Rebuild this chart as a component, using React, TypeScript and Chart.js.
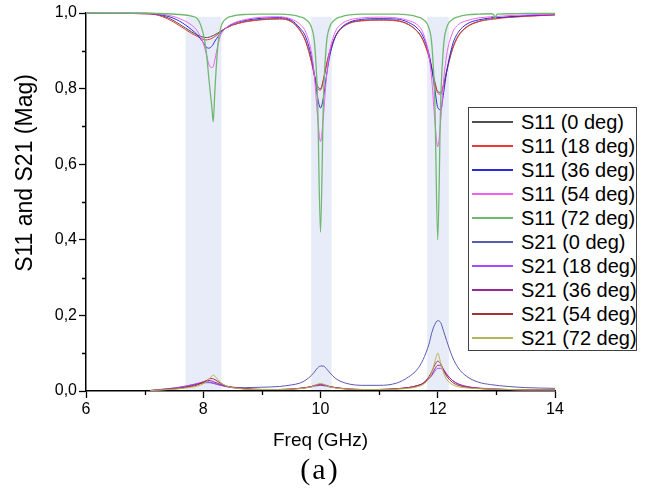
import React, { useEffect, useRef } from "react";
import { Chart, registerables } from "chart.js";

Chart.register(...registerables);

// ---------- data ----------
const s11Freq = [
  6.0, 6.5, 7.0, 7.2, 7.4, 7.6, 7.8, 7.9,
  8.0, 8.05, 8.1, 8.15, 8.17, 8.2, 8.25, 8.3, 8.4,
  8.5, 8.7, 9.0, 9.3, 9.5, 9.65,
  9.75, 9.85, 9.9, 9.95, 10.0, 10.05, 10.1, 10.15, 10.25, 10.35,
  10.5, 10.7, 11.0, 11.3, 11.5, 11.65,
  11.75, 11.85, 11.9, 11.95, 12.0, 12.05, 12.1, 12.15, 12.25, 12.35,
  12.5, 12.7, 12.9, 12.95, 12.98, 13.01, 13.2, 13.5, 14.0,
];

const s11Deg0 = [
  0.999, 0.999, 0.998, 0.996, 0.987, 0.970, 0.950, 0.942,
  0.936, 0.935, 0.936, 0.939, 0.940, 0.943, 0.947, 0.952, 0.961,
  0.968, 0.977, 0.983, 0.985, 0.978, 0.955,
  0.925, 0.870, 0.834, 0.806, 0.800, 0.825, 0.862, 0.895, 0.937, 0.959,
  0.974, 0.980, 0.982, 0.980, 0.970, 0.952,
  0.929, 0.886, 0.853, 0.818, 0.792, 0.790, 0.811, 0.846, 0.905, 0.940,
  0.964, 0.978, 0.984, 0.985, 0.985, 0.986, 0.989, 0.992, 0.995,
];

const s11Deg18 = [
  0.999, 0.999, 0.998, 0.995, 0.984, 0.966, 0.946, 0.938,
  0.930, 0.929, 0.930, 0.933, 0.935, 0.938, 0.944, 0.951, 0.961,
  0.968, 0.976, 0.982, 0.984, 0.977, 0.953,
  0.923, 0.867, 0.830, 0.800, 0.796, 0.822, 0.860, 0.893, 0.936, 0.958,
  0.973, 0.979, 0.981, 0.979, 0.969, 0.951,
  0.927, 0.883, 0.850, 0.815, 0.788, 0.785, 0.808, 0.843, 0.903, 0.938,
  0.963, 0.977, 0.983, 0.984, 0.984, 0.985, 0.988, 0.991, 0.995,
];

const s11Deg36 = [
  1.0, 0.999, 0.999, 0.997, 0.991, 0.978, 0.956, 0.942,
  0.922, 0.910, 0.907, 0.913, 0.917, 0.926, 0.937, 0.948, 0.962,
  0.971, 0.980, 0.986, 0.988, 0.981, 0.960,
  0.936, 0.880, 0.832, 0.777, 0.749, 0.777, 0.832, 0.880, 0.936, 0.960,
  0.976, 0.983, 0.985, 0.984, 0.975, 0.960,
  0.938, 0.892, 0.851, 0.799, 0.750, 0.744, 0.789, 0.842, 0.915, 0.949,
  0.971, 0.982, 0.987, 0.988, 0.988, 0.988, 0.990, 0.993, 0.996,
];

const s11Deg54 = [
  1.0, 1.0, 0.999, 0.998, 0.994, 0.985, 0.968, 0.952,
  0.920, 0.893, 0.862, 0.856, 0.858, 0.878, 0.915, 0.942, 0.962,
  0.972, 0.982, 0.989, 0.990, 0.984, 0.970,
  0.949, 0.892, 0.827, 0.727, 0.660, 0.727, 0.827, 0.892, 0.949, 0.970,
  0.982, 0.987, 0.989, 0.987, 0.980, 0.969,
  0.947, 0.887, 0.820, 0.715, 0.646, 0.715, 0.820, 0.887, 0.947, 0.969,
  0.980, 0.987, 0.990, 0.991, 0.991, 0.991, 0.993, 0.995, 0.997,
];

const s11Deg72 = [
  1.0, 1.0, 1.0, 0.999, 0.998, 0.996, 0.992, 0.985,
  0.945, 0.900, 0.820, 0.745, 0.712, 0.800, 0.915, 0.962, 0.986,
  0.992, 0.996, 0.997, 0.997, 0.995, 0.990,
  0.983, 0.960, 0.917, 0.770, 0.420, 0.770, 0.917, 0.960, 0.983, 0.990,
  0.995, 0.997, 0.997, 0.997, 0.995, 0.990,
  0.983, 0.960, 0.915, 0.765, 0.400, 0.765, 0.915, 0.960, 0.983, 0.990,
  0.995, 0.997, 0.998, 0.997, 0.986, 0.997, 0.998, 0.999, 0.999,
];

const s21Freq = [
  7.1, 7.2, 7.4, 7.6, 7.8, 7.9,
  8.0, 8.05, 8.1, 8.15, 8.17, 8.2, 8.25, 8.3, 8.4,
  8.5, 8.7, 9.0, 9.3, 9.5, 9.65,
  9.75, 9.85, 9.9, 9.95, 10.0, 10.05, 10.1, 10.15, 10.25, 10.35,
  10.5, 10.7, 11.0, 11.3, 11.5, 11.65,
  11.75, 11.85, 11.9, 11.95, 12.0, 12.05, 12.1, 12.15, 12.25, 12.35,
  12.5, 12.7, 12.9, 13.2, 13.5, 14.0,
];

const s21Deg0 = [
  0.002, 0.003, 0.006, 0.010, 0.016, 0.019,
  0.021, 0.022, 0.022, 0.021, 0.020, 0.019, 0.017, 0.015, 0.012,
  0.010, 0.009, 0.010, 0.012, 0.016, 0.021,
  0.029, 0.042, 0.051, 0.061, 0.066, 0.066, 0.059, 0.050, 0.034, 0.025,
  0.018, 0.015, 0.015, 0.021, 0.037, 0.057,
  0.083, 0.124, 0.155, 0.176, 0.186, 0.181, 0.158, 0.134, 0.090, 0.061,
  0.038, 0.023, 0.017, 0.012, 0.009, 0.007,
];

const s21Deg18 = [
  0.001, 0.003, 0.006, 0.010, 0.016, 0.020,
  0.024, 0.025, 0.024, 0.022, 0.021, 0.020, 0.017, 0.015, 0.011,
  0.009, 0.006, 0.004, 0.004, 0.005, 0.007,
  0.009, 0.011, 0.013, 0.014, 0.015, 0.014, 0.013, 0.011, 0.009, 0.007,
  0.005, 0.004, 0.004, 0.006, 0.009, 0.014,
  0.020, 0.032, 0.041, 0.052, 0.060, 0.060, 0.053, 0.043, 0.028, 0.019,
  0.012, 0.008, 0.006, 0.004, 0.003, 0.003,
];

const s21Deg36 = [
  0.001, 0.002, 0.005, 0.008, 0.014, 0.018,
  0.024, 0.027, 0.028, 0.026, 0.025, 0.023, 0.020, 0.017, 0.012,
  0.009, 0.006, 0.004, 0.004, 0.005, 0.007,
  0.009, 0.012, 0.014, 0.015, 0.016, 0.015, 0.014, 0.012, 0.009, 0.007,
  0.005, 0.004, 0.004, 0.006, 0.009, 0.014,
  0.020, 0.034, 0.044, 0.058, 0.068, 0.067, 0.057, 0.045, 0.028, 0.018,
  0.011, 0.007, 0.005, 0.004, 0.003, 0.003,
];

const s21Deg54 = [
  0.001, 0.002, 0.004, 0.007, 0.012, 0.016,
  0.023, 0.027, 0.032, 0.033, 0.032, 0.030, 0.025, 0.020, 0.013,
  0.010, 0.006, 0.004, 0.004, 0.005, 0.007,
  0.009, 0.012, 0.015, 0.017, 0.018, 0.017, 0.015, 0.012, 0.009, 0.007,
  0.005, 0.004, 0.004, 0.006, 0.009, 0.014,
  0.021, 0.038, 0.052, 0.069, 0.079, 0.072, 0.055, 0.040, 0.023, 0.015,
  0.010, 0.007, 0.005, 0.004, 0.003, 0.003,
];

const s21Deg72 = [
  0.001, 0.002, 0.004, 0.006, 0.010, 0.013,
  0.019, 0.024, 0.032, 0.040, 0.042, 0.039, 0.030, 0.022, 0.013,
  0.009, 0.005, 0.004, 0.004, 0.005, 0.006,
  0.008, 0.011, 0.014, 0.018, 0.020, 0.018, 0.014, 0.011, 0.008, 0.006,
  0.005, 0.004, 0.004, 0.005, 0.007, 0.011,
  0.017, 0.033, 0.050, 0.077, 0.100, 0.075, 0.048, 0.031, 0.017, 0.011,
  0.008, 0.006, 0.005, 0.004, 0.003, 0.003,
];

const seriesLabels = [
  "S11 (0 deg)", "S11 (18 deg)", "S11 (36 deg)", "S11 (54 deg)", "S11 (72 deg)",
  "S21 (0 deg)", "S21 (18 deg)", "S21 (36 deg)", "S21 (54 deg)", "S21 (72 deg)",
];

const bandStart = [7.7, 9.84, 11.82];
const bandEnd = [8.31, 10.19, 12.19];
const bandTop = 0.99;

const xMinorTicks = [7, 9, 11, 13];
const yMinorTicks = [0.1, 0.3, 0.5, 0.7, 0.9];

// ---------- styles ----------
const seriesColors = [
  "#505050", "#e83a3a", "#2b2bd9", "#f060f0", "#6fb86f",
  "#5a5ab4", "#a54cff", "#9a2a9a", "#a83030", "#b5b55a",
];
const seriesWidths = [1, 1, 1, 1, 1.3, 1, 1, 1, 1, 1];
const FONT = "'Liberation Sans', Arial, sans-serif";

const bandPlugin = {
  id: "bands",
  beforeDatasetsDraw(chart: any) {
    const { ctx, scales } = chart;
    const xs = scales.x;
    const ys = scales.y;
    ctx.save();
    ctx.fillStyle = "#e8ecf8";
    for (let i = 0; i < bandStart.length; i++) {
      const x0 = xs.getPixelForValue(bandStart[i]);
      const x1 = xs.getPixelForValue(bandEnd[i]);
      const y0 = ys.getPixelForValue(bandTop);
      const y1 = ys.getPixelForValue(0) - 1;
      ctx.fillRect(x0, y0, x1 - x0, y1 - y0);
    }
    ctx.restore();
  },
};

const minorTickPlugin = {
  id: "minorTicks",
  afterDraw(chart: any) {
    const { ctx, scales, chartArea } = chart;
    ctx.save();
    ctx.strokeStyle = "#000";
    ctx.lineWidth = 1.3;
    ctx.beginPath();
    for (const v of xMinorTicks) {
      const px = Math.round(scales.x.getPixelForValue(v)) + 0.5;
      ctx.moveTo(px, chartArea.bottom);
      ctx.lineTo(px, chartArea.bottom + 4);
    }
    for (const v of yMinorTicks) {
      const py = Math.round(scales.y.getPixelForValue(v)) + 0.5;
      ctx.moveTo(chartArea.left, py);
      ctx.lineTo(chartArea.left - 4, py);
    }
    ctx.stroke();
    ctx.restore();
  },
};

function toPoints(xs: number[], ys: number[]) {
  return xs.map((x, i) => ({ x, y: ys[i] }));
}

export default function App() {
  const canvasRef = useRef<HTMLCanvasElement | null>(null);

  useEffect(() => {
    if (!canvasRef.current) return;
    const s11Sets = [s11Deg0, s11Deg18, s11Deg36, s11Deg54, s11Deg72];
    const s21Sets = [s21Deg0, s21Deg18, s21Deg36, s21Deg54, s21Deg72];
    const all = [
      ...s11Sets.map((d) => toPoints(s11Freq, d)),
      ...s21Sets.map((d) => toPoints(s21Freq, d)),
    ];
    const datasets = all.map((pts, i) => ({
      label: seriesLabels[i],
      data: pts,
      borderColor: seriesColors[i],
      backgroundColor: seriesColors[i],
      borderWidth: seriesWidths[i],
      pointRadius: 0,
      fill: false,
      cubicInterpolationMode: "monotone" as const,
      clip: 3,
      order: all.length - 1 - i,
    }));

    const chart = new Chart(canvasRef.current, {
      type: "line",
      data: { datasets },
      options: {
        animation: false,
        responsive: false,
        maintainAspectRatio: false,
        layout: { padding: { left: 0, top: 13, right: 102, bottom: 0 } },
        plugins: { legend: { display: false }, tooltip: { enabled: false } },
        scales: {
          x: {
            type: "linear",
            min: 6,
            max: 14,
            ticks: {
              stepSize: 2,
              color: "#000",
              font: { family: FONT, size: 16 },
              padding: 2,
              maxRotation: 0,
              autoSkip: false,
            },
            grid: {
              display: true,
              drawOnChartArea: false,
              drawTicks: true,
              tickLength: 7,
              color: "#000",
              tickColor: "#000",
              tickWidth: 1.3,
            },
            border: { display: true, color: "#000", width: 1.5 },
            title: {
              display: true,
              text: "Freq (GHz)",
              color: "#000",
              font: { family: FONT, size: 19 },
              padding: { top: 0, bottom: 8 },
            },
            afterFit: (s: any) => {
              s.height = 69;
            },
          },
          y: {
            type: "linear",
            min: 0,
            max: 1,
            ticks: {
              stepSize: 0.2,
              color: "#000",
              font: { family: FONT, size: 16 },
              padding: 2,
              callback: (v: any) => Number(v).toFixed(1).replace(".", ","),
            },
            grid: {
              display: true,
              drawOnChartArea: false,
              drawTicks: true,
              tickLength: 7,
              color: "#000",
              tickColor: "#000",
              tickWidth: 1.3,
            },
            border: { display: true, color: "#000", width: 1.5 },
            afterFit: (s: any) => {
              s.width = 86;
            },
          },
        },
      },
      plugins: [bandPlugin, minorTickPlugin],
    });
    return () => chart.destroy();
  }, []);

  return (
    <div style={{ position: "absolute", left: 0, top: 0, width: 657, height: 488, background: "#fff", overflow: "hidden" }}>
      <canvas ref={canvasRef} width={657} height={460} style={{ position: "absolute", left: 0, top: 0, width: 657, height: 460 }} />
      <div
        style={{
          position: "absolute",
          left: 24 - 150,
          top: 173 - 15,
          width: 300,
          height: 30,
          lineHeight: "30px",
          textAlign: "center",
          fontFamily: FONT,
          fontSize: 23,
          color: "#000",
          transform: "rotate(-90deg)",
          whiteSpace: "nowrap",
        }}
      >
        S11 and S21 (Mag)
      </div>
      <div
        style={{
          position: "absolute",
          left: 468,
          top: 107,
          width: 169,
          height: 244,
          border: "1px solid #404040",
          background: "#fff",
          boxSizing: "border-box",
        }}
      >
        {seriesLabels.map((lab, i) => (
          <div key={lab} style={{ position: "absolute", left: 0, top: 1.7 + i * 24, height: 24, width: 167 }}>
            <div
              style={{
                position: "absolute",
                left: 3,
                top: 11.5,
                width: 41,
                height: i === 4 ? 2 : 1.4,
                background: seriesColors[i],
              }}
            />
            <div
              style={{
                position: "absolute",
                left: 52,
                top: 0,
                height: 24,
                lineHeight: "24px",
                fontFamily: FONT,
                fontSize: 20,
                color: "#000",
                whiteSpace: "nowrap",
              }}
            >
              {lab}
            </div>
          </div>
        ))}
      </div>
      <div
        style={{
          position: "absolute",
          left: 0,
          top: 451,
          width: 640,
          textAlign: "center",
          fontFamily: "'Liberation Serif', 'Times New Roman', serif",
          fontSize: 30,
          lineHeight: "36px",
          letterSpacing: 2,
          color: "#000",
        }}
      >
        (a)
      </div>
    </div>
  );
}
